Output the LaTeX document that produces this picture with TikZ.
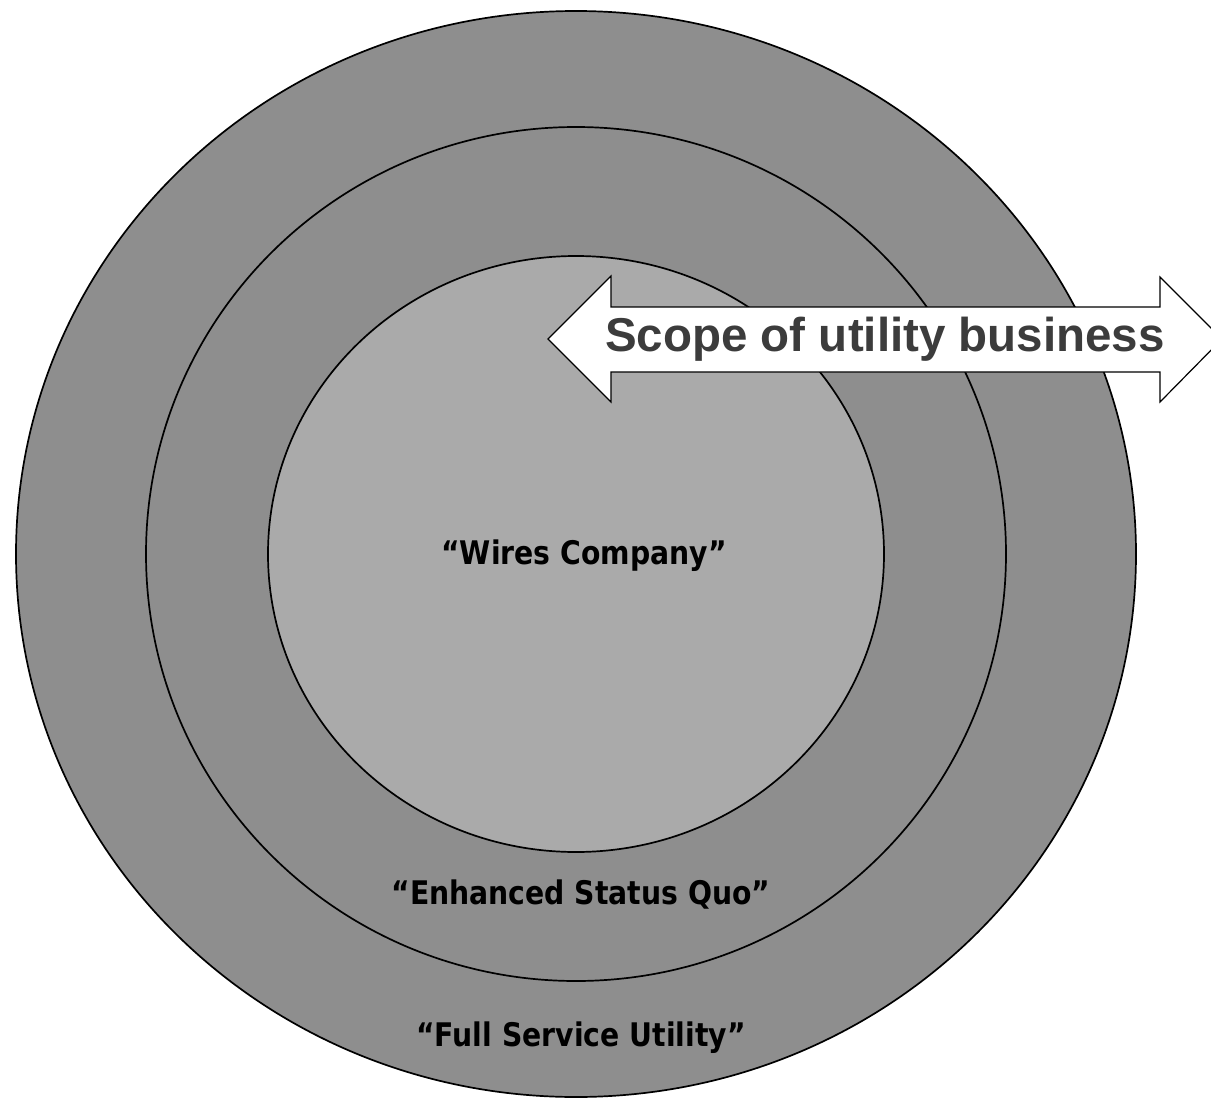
\documentclass[tikz,border=0pt]{standalone}
\usepackage{fontspec}
\setmainfont{Liberation Sans}
\newfontfamily\lblfont{DejaVu Sans}
\definecolor{ringgray}{HTML}{8E8E8E}
\definecolor{coregray}{HTML}{AAAAAA}
\definecolor{scopegray}{HTML}{3C3C3C}
\tikzset{
  ring/.style={draw=black, line width=1.7pt, fill=ringgray},
  core/.style={draw=black, line width=1.7pt, fill=coregray},
  lbl/.style={font=\lblfont\bfseries\fontsize{32.5}{36}\selectfont, text=black, inner sep=0pt, xscale=0.87},
  arrowshape/.style={draw=black, line width=1.2pt, fill=white, line join=miter},
  scopetext/.style={font=\bfseries\fontsize{47.5}{52}\selectfont, text=scopegray, inner sep=0pt}
}
\begin{document}
\begin{tikzpicture}[x=1pt,y=-1pt]
\useasboundingbox (0,0) rectangle (1211,1100);
\clip (0,0) rectangle (1211,1100);
\fill[white] (0,0) rectangle (1211,1100);
\draw[ring] (576,554) ellipse [x radius=560, y radius=543];
\draw[ring] (576,554) ellipse [x radius=430, y radius=427];
\draw[core] (576,554) ellipse [x radius=308, y radius=298];
\node[lbl] (wires) at (584,556) {“Wires Company”};
\node[lbl] (esq) at (581,895) {“Enhanced Status Quo”};
\node[lbl] (fsu) at (581,1038) {“Full Service Utility”};
\draw[arrowshape] (548,339) -- (611,276) -- (611,307) -- (1160,307) -- (1160,277) -- (1222,339) -- (1160,402) -- (1160,372) -- (611,372) -- (611,402) -- cycle;
\node[scopetext] (scope) at (885,339) {Scope of utility business};
\end{tikzpicture}
\end{document}
